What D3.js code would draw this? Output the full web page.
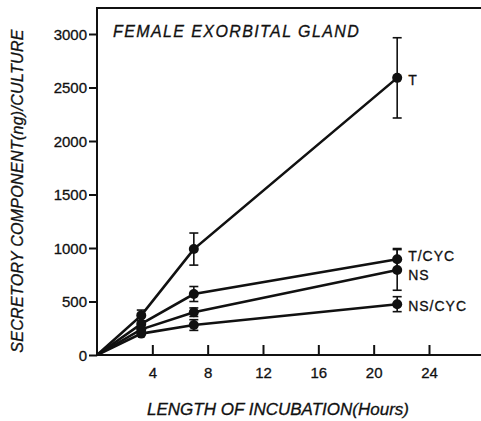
<!DOCTYPE html>
<html>
<head>
<meta charset="utf-8">
<script src="https://cdn.jsdelivr.net/npm/d3@7"></script>
<style>
  body { margin: 0; background: #fff; }
  text { font-family: "Liberation Sans", Arial, sans-serif; fill: #111; }
</style>
</head>
<body>
<svg id="chart" width="481" height="421"></svg>
<script>
// hours of incubation
var hours = [0, 3.2, 7, 21.7];
var seriesNames = ["T", "T/CYC", "NS", "NS/CYC"];
var meanT = [0, 370, 990, 2590];
var meanTCyc = [0, 290, 570, 895];
var meanNS = [0, 240, 400, 795];
var meanNSCyc = [0, 200, 280, 475];
// half height of error bars (0 = none drawn)
var errT = [0, 50, 150, 375];
var errTCyc = [0, 0, 70, 100];
var errNS = [0, 0, 40, 190];
var errNSCyc = [0, 0, 50, 70];
var xTicks = [4, 8, 12, 16, 20, 24];
var yTicks = [0, 500, 1000, 1500, 2000, 2500, 3000];

var series = [
    { name: seriesNames[0], mean: meanT, err: errT },
    { name: seriesNames[1], mean: meanTCyc, err: errTCyc },
    { name: seriesNames[2], mean: meanNS, err: errNS },
    { name: seriesNames[3], mean: meanNSCyc, err: errNSCyc }
];

var svg = d3.select("#chart");
var x = d3.scaleLinear().domain([0, 24]).range([97, 429]);
var y = d3.scaleLinear().domain([0, 3000]).range([355, 34]);

// frame: y axis, x axis, top line
var frame = svg.append("g").attr("stroke", "#111").attr("stroke-width", 2);
frame.append("line").attr("x1", 97).attr("x2", 97).attr("y1", 8).attr("y2", 356);
frame.append("line").attr("x1", 96).attr("x2", 481).attr("y1", 355).attr("y2", 355);
frame.append("line").attr("x1", 96).attr("x2", 481).attr("y1", 8).attr("y2", 8);

// y ticks, pointing out
var yAxis = svg.append("g").attr("transform", "translate(97,0)")
    .call(d3.axisLeft(y).tickValues(yTicks).tickSize(8).tickPadding(2).tickFormat(d3.format("d")));
yAxis.select(".domain").remove();
yAxis.selectAll("line").attr("stroke", "#111").attr("stroke-width", 2);
yAxis.selectAll("text").style("font-size", "15px").attr("dy", "0.36em")
    .style("stroke", "#111").style("stroke-width", 0.3);

// x ticks, pointing in
var xAxis = svg.append("g").attr("transform", "translate(0,355)")
    .call(d3.axisTop(x).tickValues(xTicks).tickSize(10).tickFormat(d3.format("d")));
xAxis.select(".domain").remove();
xAxis.selectAll("line").attr("stroke", "#111").attr("stroke-width", 2);
xAxis.selectAll("text").style("font-size", "15px").attr("y", 12).attr("dy", "0.71em")
    .style("stroke", "#111").style("stroke-width", 0.3);

var line = d3.line().x((d, i) => x(hours[i])).y(d => y(d));

var groups = svg.selectAll(".series").data(series).enter().append("g").attr("class", "series");

groups.append("path")
    .attr("d", d => line(d.mean))
    .attr("fill", "none")
    .attr("stroke", "#111")
    .attr("stroke-width", 2.6);

groups.each(function (s) {
    var g = d3.select(this);
    s.mean.forEach((v, i) => {
        if (i === 0) return;
        var cx = x(hours[i]);
        if (s.err[i] > 0) {
            var top = y(v + s.err[i]);
            var bot = y(v - s.err[i]);
            g.append("line").attr("x1", cx).attr("x2", cx).attr("y1", top).attr("y2", bot)
                .attr("stroke", "#111").attr("stroke-width", 1.6);
            [top, bot].forEach(yy => {
                g.append("line").attr("x1", cx - 4.5).attr("x2", cx + 4.5).attr("y1", yy).attr("y2", yy)
                    .attr("stroke", "#111").attr("stroke-width", 1.6);
            });
        }
        g.append("circle").attr("cx", cx).attr("cy", y(v)).attr("r", 5).attr("fill", "#111");
    });
});

// series labels at the right end
var labelDy = [2, -3, 5, 2];
groups.append("text")
    .attr("x", x(hours[3]) + 11)
    .attr("y", (d, i) => y(d.mean[3]) + labelDy[i])
    .attr("dy", "0.36em")
    .style("font-size", "14px")
    .style("letter-spacing", "1px")
    .style("stroke", "#111").style("stroke-width", 0.3)
    .text(d => d.name);

svg.append("text")
    .attr("x", 113).attr("y", 37)
    .style("font-size", "16px").style("font-style", "italic")
    .style("letter-spacing", "1.4px")
    .style("stroke", "#111").style("stroke-width", 0.3)
    .text("FEMALE EXORBITAL GLAND");

svg.append("text")
    .attr("transform", "translate(23,191) rotate(-90)")
    .attr("text-anchor", "middle")
    .style("font-size", "16px").style("font-style", "italic")
    .style("letter-spacing", "0.3px")
    .style("stroke", "#111").style("stroke-width", 0.3)
    .text("SECRETORY COMPONENT(ng)/CULTURE");

svg.append("text")
    .attr("x", 278).attr("y", 415)
    .attr("text-anchor", "middle")
    .style("font-size", "17px").style("font-style", "italic")
    .style("stroke", "#111").style("stroke-width", 0.3)
    .text("LENGTH OF INCUBATION(Hours)");
</script>
</body>
</html>
